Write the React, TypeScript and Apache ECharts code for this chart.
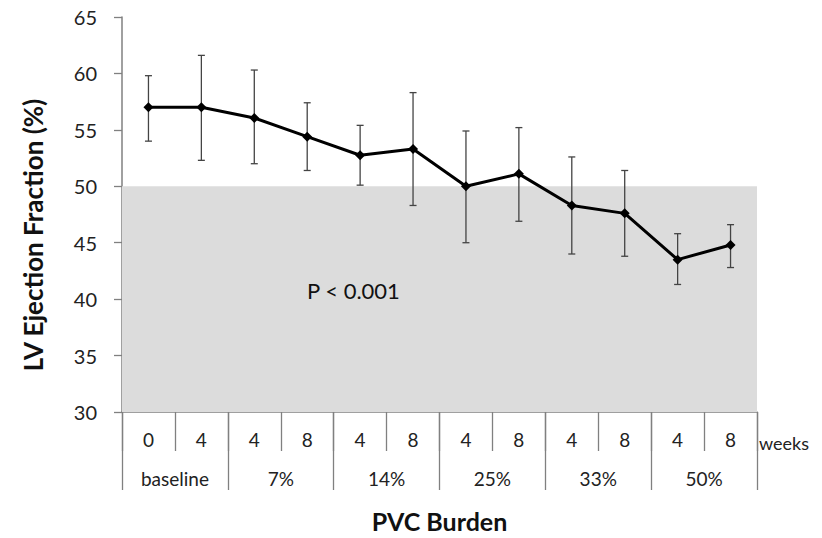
import React, { useEffect, useRef } from "react";
import * as echarts from "echarts";

const weekLabels = ["0", "4", "4", "8", "4", "8", "4", "8", "4", "8", "4", "8"];
const burdenGroups = ["baseline", "7%", "14%", "25%", "33%", "50%"];
const efMean = [57.0, 57.0, 56.05, 54.4, 52.75, 53.3, 50.0, 51.1, 48.3, 47.6, 43.5, 44.8];
const efLow = [54.0, 52.3, 52.0, 51.4, 50.1, 48.3, 45.0, 46.9, 44.0, 43.8, 41.3, 42.8];
const efHigh = [59.8, 61.6, 60.3, 57.4, 55.4, 58.3, 54.9, 55.2, 52.6, 51.4, 45.8, 46.6];
const yTicks = { min: 30, max: 65, interval: 5 };
const normalRange = [30, 50];

const FONT = "Lato, 'Open Sans', sans-serif";
const AXIS_COLOR = "#808080";

export default function App() {
  const ref = useRef<HTMLDivElement>(null);
  useEffect(() => {
    document.body.style.margin = "0";
    if (!ref.current) return;
    const chart = echarts.init(ref.current, undefined, { renderer: "svg" });
    const errData = weekLabels.map((_, i) => [i, efLow[i], efHigh[i]]);
    chart.setOption({
      animation: false,
      textStyle: { fontFamily: FONT },
      grid: { left: 122, right: 65, top: 17, bottom: 122, containLabel: false },
      xAxis: [
        {
          type: "category",
          data: weekLabels,
          position: "bottom",
          boundaryGap: true,
          axisLine: { show: true, lineStyle: { color: AXIS_COLOR, width: 1.5 } },
          axisTick: { show: true, interval: 0, length: 39, lineStyle: { color: AXIS_COLOR, width: 1.3 } },
          axisLabel: { interval: 0, margin: 18, fontSize: 19, color: "#222", fontFamily: FONT },
        },
        {
          type: "category",
          data: burdenGroups,
          position: "bottom",
          offset: 0,
          boundaryGap: true,
          axisLine: { show: false },
          axisTick: { show: true, interval: 0, length: 78, lineStyle: { color: AXIS_COLOR, width: 1.3 } },
          axisLabel: { interval: 0, margin: 57, fontSize: 19, color: "#222", fontFamily: FONT },
          name: "PVC Burden",
          nameLocation: "middle",
          nameGap: 96,
          nameTextStyle: { fontSize: 25, fontWeight: "bold", color: "#111", fontFamily: FONT },
        },
      ],
      yAxis: {
        type: "value",
        min: yTicks.min,
        max: yTicks.max,
        interval: yTicks.interval,
        axisLine: { show: true, lineStyle: { color: AXIS_COLOR, width: 1.5 } },
        axisTick: { show: true, length: 8, lineStyle: { color: AXIS_COLOR, width: 1.3 } },
        splitLine: { show: false },
        axisLabel: { margin: 25, fontSize: 20, color: "#222", fontFamily: FONT },
      },
      graphic: [
        {
          type: "text",
          x: 33,
          y: 235,
          rotation: Math.PI / 2,
          style: {
            text: "LV Ejection Fraction (%)",
            fontSize: 26,
            fontWeight: "bold",
            fill: "#111",
            fontFamily: FONT,
            align: "center",
            verticalAlign: "middle",
          },
        },
        {
          type: "text",
          x: 759,
          y: 443,
          style: { text: "weeks", fontSize: 18, fill: "#222", fontFamily: FONT, verticalAlign: "middle" },
        },
        {
          type: "text",
          x: 307,
          y: 290,
          z: 10,
          style: { text: "P < 0.001", fontSize: 22, fill: "#111", fontFamily: FONT, verticalAlign: "middle" },
        },
      ],
      series: [
        {
          type: "custom",
          xAxisIndex: 0,
          z: 1,
          data: errData,
          renderItem: (params: any, api: any) => {
            const x = api.value(0);
            const lo = api.coord([x, api.value(1)]);
            const hi = api.coord([x, api.value(2)]);
            const cap = 3.5;
            const style = { stroke: "#444", lineWidth: 1.3 };
            return {
              type: "group",
              children: [
                { type: "line", shape: { x1: lo[0], y1: lo[1], x2: hi[0], y2: hi[1] }, style },
                { type: "line", shape: { x1: lo[0] - cap, y1: lo[1], x2: lo[0] + cap, y2: lo[1] }, style },
                { type: "line", shape: { x1: hi[0] - cap, y1: hi[1], x2: hi[0] + cap, y2: hi[1] }, style },
              ],
            };
          },
          markArea: {
            silent: true,
            itemStyle: { color: "#dcdcdc" },
            data: [[{ yAxis: normalRange[0] }, { yAxis: normalRange[1] }]],
          },
        },
        {
          type: "line",
          xAxisIndex: 0,
          z: 3,
          data: efMean,
          symbol: "diamond",
          symbolSize: 10,
          lineStyle: { color: "#000", width: 3 },
          itemStyle: { color: "#000" },
        },
      ],
    });
    return () => chart.dispose();
  }, []);
  return <div ref={ref} style={{ width: 822, height: 538 }} />;
}
